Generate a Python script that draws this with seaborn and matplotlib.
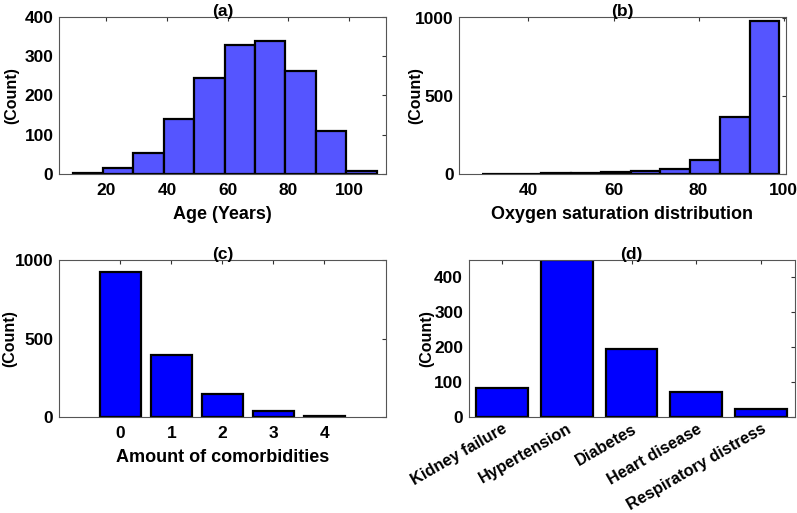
import matplotlib
matplotlib.use("Agg")
import matplotlib.pyplot as plt
import numpy as np
import seaborn as sns

sns.set_style("white")
plt.rcParams["font.family"] = ["Liberation Sans", "DejaVu Sans"]
plt.rcParams["font.weight"] = "bold"
plt.rcParams["axes.labelweight"] = "bold"
plt.rcParams["axes.titleweight"] = "bold"
plt.rcParams["text.color"] = "black"
plt.rcParams["axes.labelcolor"] = "black"
plt.rcParams["xtick.color"] = "black"
plt.rcParams["ytick.color"] = "black"

# (a) age histogram
age_edges = [9, 19, 29, 39, 49, 59, 69, 79, 89, 99, 109]
age_counts = [2, 15, 53, 141, 245, 328, 339, 261, 109, 7]

# (b) oxygen saturation histogram
oxy_edges = [29, 36, 43, 50, 57, 64, 71, 78, 85, 92, 99]
oxy_counts = [2, 2, 3, 3, 10, 16, 32, 87, 366, 987]

# (c) number of comorbidities
comorb_levels = ["0", "1", "2", "3", "4"]
comorb_counts = [921, 398, 149, 36, 6]

# (d) comorbidity type
disease_names = ["Kidney failure", "Hypertension", "Diabetes", "Heart disease", "Respiratory distress"]
disease_counts = [82, 447, 195, 71, 24]

HIST_COLOR = "#5555FF"
BAR_COLOR = "#0000FF"
XLABEL_SIZE = 13
YLABEL_SIZE = 11.5
TITLE_SIZE = 12.5
TICK_SIZE = 12.5


def style_axes(ax):
    ax.tick_params(direction="in", length=3, width=0.8, top=True, right=True,
                   labelsize=TICK_SIZE, color="#333333", labelcolor="black")
    ax.tick_params(axis="x", pad=6.5)
    ax.tick_params(axis="y", pad=4)
    for s in ax.spines.values():
        s.set_visible(True)
        s.set_color("#555555")
        s.set_linewidth(0.8)
    for lab in ax.get_xticklabels() + ax.get_yticklabels():
        lab.set_fontweight("bold")


fig = plt.figure(figsize=(7.97, 5.13), dpi=100)
ax_a = fig.add_axes([0.074, 0.661, 0.410, 0.306])
ax_b = fig.add_axes([0.576, 0.661, 0.410, 0.306])
ax_c = fig.add_axes([0.074, 0.187, 0.410, 0.306])
ax_d = fig.add_axes([0.588, 0.187, 0.409, 0.306])

# (a)
age_centers = [(age_edges[i] + age_edges[i + 1]) / 2 for i in range(len(age_counts))]
sns.histplot(x=age_centers, weights=age_counts, bins=age_edges, ax=ax_a,
             color=HIST_COLOR, alpha=1, edgecolor="black", linewidth=1.6)
ax_a.set_xlim(4.5, 112)
ax_a.set_ylim(0, 400)
ax_a.set_xticks([20, 40, 60, 80, 100])
ax_a.set_yticks([0, 100, 200, 300, 400])
ax_a.set_xlabel("Age (Years)", fontsize=XLABEL_SIZE)
ax_a.set_ylabel("(Count)", fontsize=YLABEL_SIZE)
ax_a.set_title("(a)", fontsize=TITLE_SIZE, pad=1)

# (b)
oxy_centers = [(oxy_edges[i] + oxy_edges[i + 1]) / 2 for i in range(len(oxy_counts))]
sns.histplot(x=oxy_centers, weights=oxy_counts, bins=oxy_edges, ax=ax_b,
             color=HIST_COLOR, alpha=1, edgecolor="black", linewidth=1.6)
ax_b.set_xlim(23.7, 100.5)
ax_b.set_ylim(0, 1010)
ax_b.set_xticks([40, 60, 80, 100])
ax_b.set_yticks([0, 500, 1000])
ax_b.set_xlabel("Oxygen saturation distribution", fontsize=XLABEL_SIZE)
ax_b.set_ylabel("(Count)", fontsize=YLABEL_SIZE)
ax_b.set_title("(b)", fontsize=TITLE_SIZE, pad=1)

# (c)
sns.barplot(x=comorb_levels, y=comorb_counts, ax=ax_c, color=BAR_COLOR,
            saturation=1, width=0.8, edgecolor="black", linewidth=1.6)
ax_c.set_xlim(-1.2, 5.2)
ax_c.set_ylim(0, 1000)
ax_c.set_yticks([0, 500, 1000])
ax_c.set_xlabel("Amount of comorbidities", fontsize=XLABEL_SIZE)
ax_c.set_ylabel("(Count)", fontsize=YLABEL_SIZE)
ax_c.set_title("(c)", fontsize=TITLE_SIZE, pad=1)

# (d)
sns.barplot(x=disease_names, y=disease_counts, ax=ax_d, color=BAR_COLOR,
            saturation=1, width=0.8, edgecolor="black", linewidth=1.6)
ax_d.set_xlim(-0.52, 4.52)
ax_d.set_ylim(0, 447)
ax_d.set_yticks([0, 100, 200, 300, 400])
ax_d.set_xlabel("")
ax_d.set_ylabel("(Count)", fontsize=YLABEL_SIZE)
ax_d.set_title("(d)", fontsize=TITLE_SIZE, pad=1)

for ax in (ax_a, ax_b, ax_c, ax_d):
    style_axes(ax)
    ax.xaxis.labelpad = 6

ax_a.yaxis.set_label_coords(-0.122, 0.5)
ax_b.yaxis.set_label_coords(-0.110, 0.5)
ax_c.yaxis.set_label_coords(-0.128, 0.5)
ax_d.yaxis.set_label_coords(-0.107, 0.5)

ax_d.tick_params(axis="x", pad=3)
for lab in ax_d.get_xticklabels():
    lab.set_rotation(30)
    lab.set_ha("right")
    lab.set_rotation_mode("anchor")
    lab.set_fontsize(11.8)

fig.savefig("out.png", dpi=100)
